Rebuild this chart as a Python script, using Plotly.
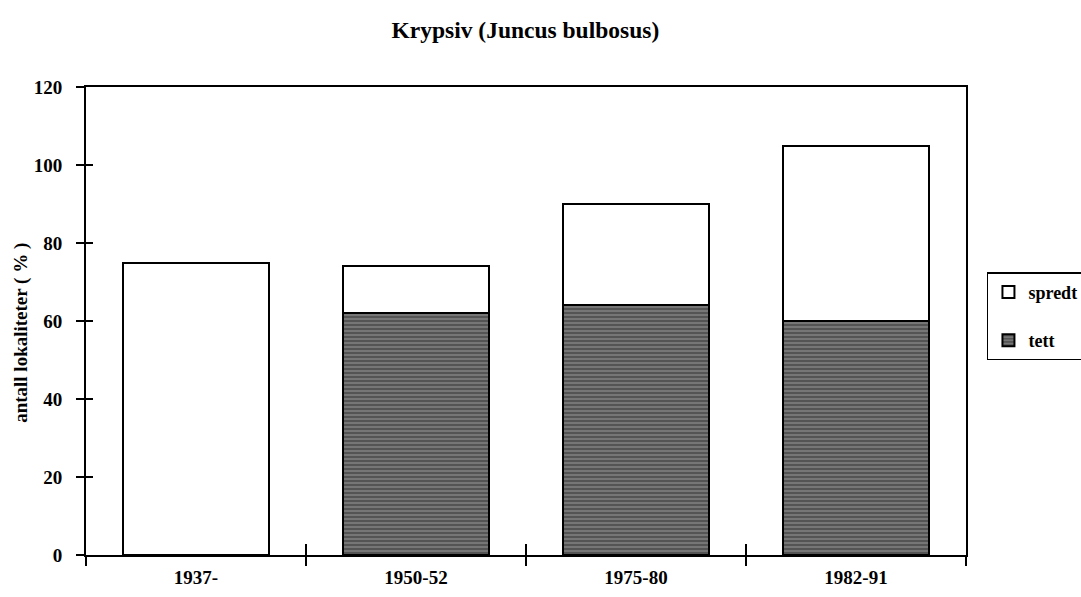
import plotly.graph_objects as go

categories = ["1937-", "1950-52", "1975-80", "1982-91"]
tett = [0, 62, 64, 60]
spredt = [75, 12, 26, 45]
y_ticks = [0, 20, 40, 60, 80, 100, 120]

FONT = "'Liberation Serif', 'Times New Roman', Times, serif"

fig = go.Figure()
fig.add_trace(go.Bar(
    x=categories, y=tett, name="tett", legendgroup="tett", legendrank=2,
    marker=dict(color="#767676", line=dict(color="black", width=2),
                pattern=dict(shape="-", fgcolor="#2a2a2a", size=4, solidity=0.45)),
))
fig.add_trace(go.Bar(
    x=categories, y=spredt, name="spredt", legendgroup="spredt", legendrank=1,
    marker=dict(color="white", line=dict(color="black", width=2)),
))
# helper trace so the overlay axes (inner tick halves) render
fig.add_trace(go.Scatter(x=categories, y=[None] * len(categories), xaxis="x2", yaxis="y2",
                         showlegend=False, hoverinfo="skip", mode="lines"))

fig.update_layout(
    width=1081, height=597,
    margin=dict(l=86, r=115, t=87, b=42, autoexpand=False),
    paper_bgcolor="white", plot_bgcolor="white",
    barmode="stack", bargap=0.336,
    font=dict(family=FONT, size=19, color="black", weight="bold"),
    title=dict(text="Krypsiv (Juncus bulbosus)", x=0.486, xanchor="center", y=0.95, yanchor="middle",
               font=dict(family=FONT, size=23.5, color="black", weight="bold")),
    xaxis=dict(type="category", categoryarray=categories, range=[-0.5, 3.5], automargin=False,
               showline=True, linecolor="black", linewidth=2, mirror=True,
               ticks="outside", ticklen=9, tickwidth=2, tickcolor="black", tickson="boundaries",
               ticklabelstandoff=4, showgrid=False, zeroline=False,
               tickfont=dict(family=FONT, size=19, weight="bold")),
    xaxis2=dict(type="category", categoryarray=categories, range=[-0.5, 3.5], overlaying="x",
                anchor="y2", side="bottom", ticks="inside", ticklen=11, tickwidth=2, tickcolor="black",
                tickson="boundaries", showticklabels=False, showgrid=False, zeroline=False, showline=False),
    yaxis=dict(range=[0, 120], tickvals=y_ticks, automargin=False,
               showline=True, linecolor="black", linewidth=2, mirror=True,
               ticks="outside", ticklen=8, tickwidth=2, tickcolor="black", ticklabelstandoff=10,
               showgrid=False, zeroline=False,
               tickfont=dict(family=FONT, size=19, weight="bold")),
    yaxis2=dict(range=[0, 120], tickvals=y_ticks, overlaying="y", anchor="x2", side="left",
                ticks="inside", ticklen=7, tickwidth=2, tickcolor="black", showticklabels=False,
                showgrid=False, zeroline=False, showline=False),
    legend=dict(xref="container", yref="container", x=0.913, xanchor="left", y=0.544, yanchor="top",
                traceorder="grouped", tracegroupgap=22, entrywidth=70,
                bordercolor="black", borderwidth=1.5, bgcolor="white",
                font=dict(family=FONT, size=18, weight="bold")),
    annotations=[dict(text="antall lokaliteter ( % )", textangle=-90, xref="paper", yref="paper",
                      x=-0.0739, y=0.4746, xanchor="center", yanchor="middle", showarrow=False,
                      font=dict(family=FONT, size=19, color="black", weight="bold"))],
)

fig.write_html("out.html", config={"displayModeBar": False},
               post_script="document.body.style.margin='0';document.body.style.overflow='hidden';")
